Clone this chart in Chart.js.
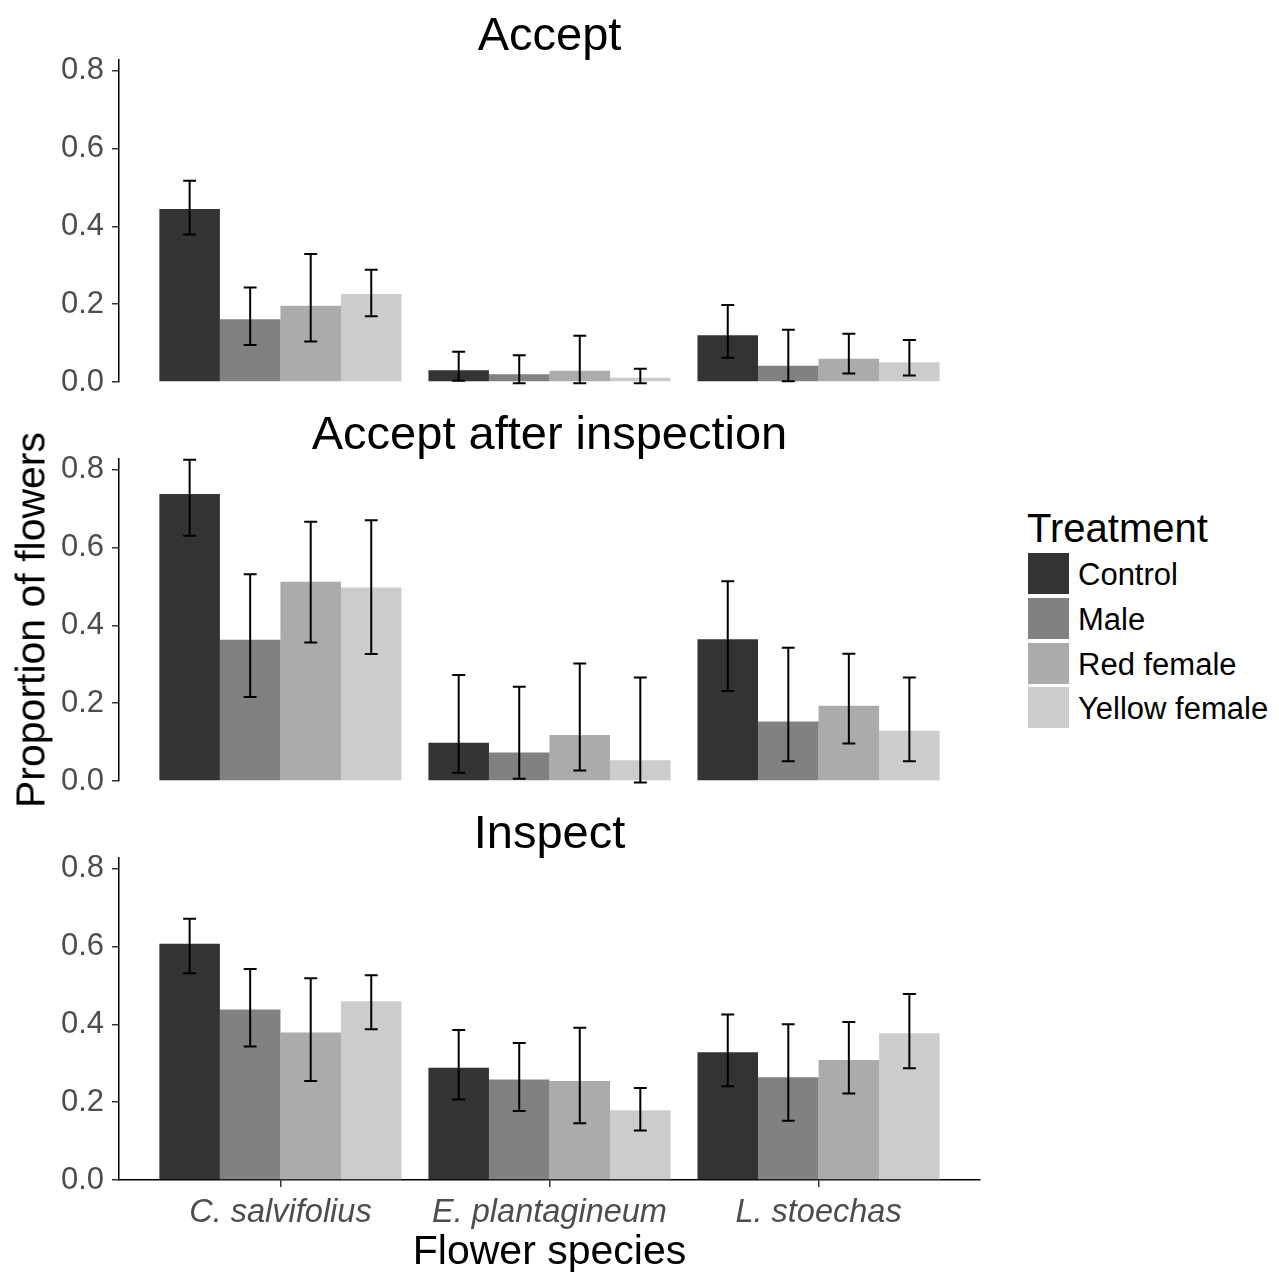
<!DOCTYPE html>
<html>
<head>
<meta charset="utf-8">
<script src="https://cdn.jsdelivr.net/npm/chart.js@4.4.1/dist/chart.umd.min.js"></script>
<style>
html,body{margin:0;padding:0;background:#fff;}
body{width:1279px;height:1276px;position:relative;overflow:hidden;font-family:'Liberation Sans',Arial,Helvetica,sans-serif;}
canvas{position:absolute;left:0;}
.t{position:absolute;white-space:nowrap;color:#000;line-height:1;}
.c{transform:translate(-50%,-50%);}
.key{position:absolute;width:41px;height:41px;}
</style>
</head>
<body>
<script>
// ---------- DATA ----------
const categories = ['C. salvifolius', 'E. plantagineum', 'L. stoechas'];
const treatments = ['Control', 'Male', 'Red female', 'Yellow female'];
const panelTitles = ['Accept', 'Accept after inspection', 'Inspect'];
const yTickValues = [0, 0.2, 0.4, 0.6, 0.8];

// rows: Control, Male, Red female, Yellow female ; columns: categories
const acceptMean = [[0.444, 0.030, 0.120], [0.161, 0.020, 0.042], [0.196, 0.029, 0.060], [0.226, 0.011, 0.051]];
const acceptLow  = [[0.379, 0.003, 0.062], [0.095, -0.003, 0.002], [0.104, -0.003, 0.022], [0.169, -0.003, 0.017]];
const acceptHigh = [[0.517, 0.078, 0.198], [0.243, 0.069, 0.134], [0.329, 0.119, 0.124], [0.288, 0.034, 0.108]];

const afterMean = [[0.737, 0.098, 0.364], [0.363, 0.073, 0.153], [0.512, 0.118, 0.193], [0.497, 0.053, 0.129]];
const afterLow  = [[0.630, 0.021, 0.231], [0.216, 0.006, 0.051], [0.356, 0.027, 0.096], [0.326, -0.004, 0.051]];
const afterHigh = [[0.825, 0.272, 0.513], [0.531, 0.242, 0.342], [0.666, 0.302, 0.327], [0.670, 0.266, 0.266]];

const inspectMean = [[0.607, 0.288, 0.328], [0.438, 0.258, 0.264], [0.379, 0.254, 0.308], [0.459, 0.179, 0.377]];
const inspectLow  = [[0.531, 0.207, 0.241], [0.343, 0.177, 0.152], [0.254, 0.146, 0.222], [0.387, 0.127, 0.287]];
const inspectHigh = [[0.671, 0.385, 0.425], [0.542, 0.352, 0.400], [0.518, 0.391, 0.406], [0.526, 0.236, 0.478]];

// ---------- STYLE ----------
const fills = ['#333333', '#818181', '#ABABAB', '#CCCCCC'];
const FONT = "'Liberation Sans', Arial, Helvetica, sans-serif";
Chart.defaults.font.family = FONT;
Chart.defaults.animation = false;

const panels = [
  {title: panelTitles[0], mean: acceptMean, low: acceptLow, high: acceptHigh, areaTop: 60, bottomAxis: false},
  {title: panelTitles[1], mean: afterMean, low: afterLow, high: afterHigh, areaTop: 459, bottomAxis: false},
  {title: panelTitles[2], mean: inspectMean, low: inspectLow, high: inspectHigh, areaTop: 858, bottomAxis: true}
];
const AREA_H = 322, PAD_T = 40, PAD_B = 40, XAXIS_H = 70;

const errorBars = {
  id: 'errorBars',
  afterDatasetsDraw(chart) {
    const ctx = chart.ctx, ys = chart.scales.y, xs = chart.scales.x;
    const half = xs.getPixelForValue(1.024) - xs.getPixelForValue(1);
    ctx.save();
    ctx.strokeStyle = '#000';
    ctx.lineWidth = 2;
    chart.data.datasets.forEach((ds, di) => {
      const meta = chart.getDatasetMeta(di);
      meta.data.forEach((bar, i) => {
        const x = bar.x;
        const y1 = ys.getPixelForValue(ds.errLow[i]);
        const y2 = ys.getPixelForValue(ds.errHigh[i]);
        ctx.beginPath();
        ctx.moveTo(x, y1); ctx.lineTo(x, y2);
        ctx.moveTo(x - half, y1); ctx.lineTo(x + half, y1);
        ctx.moveTo(x - half, y2); ctx.lineTo(x + half, y2);
        ctx.stroke();
      });
    });
    ctx.restore();
  }
};

panels.forEach((p) => {
  const cv = document.createElement('canvas');
  const h = PAD_T + AREA_H + (p.bottomAxis ? XAXIS_H : PAD_B);
  cv.width = 1000; cv.height = h;
  cv.style.top = (p.areaTop - PAD_T) + 'px';
  cv.style.width = '1000px'; cv.style.height = h + 'px';
  document.body.appendChild(cv);

  const datasets = treatments.map((t, ti) => ({
    label: t,
    data: categories.map((c, ci) => ({x: ci + 1, y: p.mean[ti][ci]})),
    errLow: p.low[ti],
    errHigh: p.high[ti],
    backgroundColor: fills[ti],
    borderWidth: 0,
    barPercentage: 1.0,
    categoryPercentage: 0.9
  }));

  new Chart(cv, {
    type: 'bar',
    data: {datasets},
    plugins: [errorBars],
    options: {
      responsive: false,
      maintainAspectRatio: false,
      animation: false,
      layout: {padding: {left: 0, right: 20, top: PAD_T, bottom: p.bottomAxis ? 0 : PAD_B}},
      plugins: {legend: {display: false}, tooltip: {enabled: false}, title: {display: false}},
      scales: {
        x: {
          type: 'linear',
          min: 0.4, max: 3.6,
          offset: false,
          display: p.bottomAxis,
          afterBuildTicks: (s) => { s.ticks = categories.map((c, i) => ({value: i + 1})); },
          afterFit: (s) => { if (p.bottomAxis) s.height = XAXIS_H; },
          grid: {display: true, drawOnChartArea: false, offset: false, drawTicks: true, tickLength: 7, color: '#333333', lineWidth: 1.5},
          border: {display: true, color: '#000000', width: 1.5},
          ticks: {
            autoSkip: false, maxRotation: 0, minRotation: 0, padding: 6,
            color: '#4d4d4d',
            font: {size: 32.5, style: 'italic', family: FONT},
            callback: (v) => categories[Math.round(v) - 1]
          }
        },
        y: {
          min: 0, max: 0.827,
          afterBuildTicks: (s) => { s.ticks = yTickValues.map(v => ({value: v})); },
          afterFit: (s) => { s.width = 119; },
          grid: {display: true, drawOnChartArea: false, drawTicks: true, tickLength: 7, color: '#333333', lineWidth: 1.5},
          border: {display: true, color: '#000000', width: 1.5},
          ticks: {
            padding: 8, color: '#4d4d4d',
            font: {size: 31, family: FONT},
            callback: (v) => Number(v).toFixed(1)
          }
        }
      }
    }
  });

  const t = document.createElement('div');
  t.className = 't c';
  t.style.left = '549.5px';
  t.style.top = (p.areaTop - 27.5) + 'px';
  t.style.fontSize = '47px';
  t.textContent = p.title;
  document.body.appendChild(t);
});

// axis titles
const yt = document.createElement('div');
yt.className = 't';
yt.style.left = '31px'; yt.style.top = '620px';
yt.style.fontSize = '41px';
yt.style.transform = 'translate(-50%,-50%) rotate(-90deg)';
yt.textContent = 'Proportion of flowers';
document.body.appendChild(yt);

const xt = document.createElement('div');
xt.className = 't c';
xt.style.left = '549.5px'; xt.style.top = '1250px';
xt.style.fontSize = '41px';
xt.textContent = 'Flower species';
document.body.appendChild(xt);

// legend
const lt = document.createElement('div');
lt.className = 't';
lt.style.left = '1027px'; lt.style.top = '527.5px';
lt.style.transform = 'translateY(-50%)';
lt.style.fontSize = '40px';
lt.textContent = 'Treatment';
document.body.appendChild(lt);

const keyTops = [553, 598, 643, 687];
treatments.forEach((tr, i) => {
  const k = document.createElement('div');
  k.className = 'key';
  k.style.left = '1028px'; k.style.top = keyTops[i] + 'px';
  k.style.background = fills[i];
  document.body.appendChild(k);
  const l = document.createElement('div');
  l.className = 't';
  l.style.left = '1078px'; l.style.top = (keyTops[i] + 21) + 'px';
  l.style.transform = 'translateY(-50%)';
  l.style.fontSize = '31px';
  l.textContent = tr;
  document.body.appendChild(l);
});
</script>
</body>
</html>
